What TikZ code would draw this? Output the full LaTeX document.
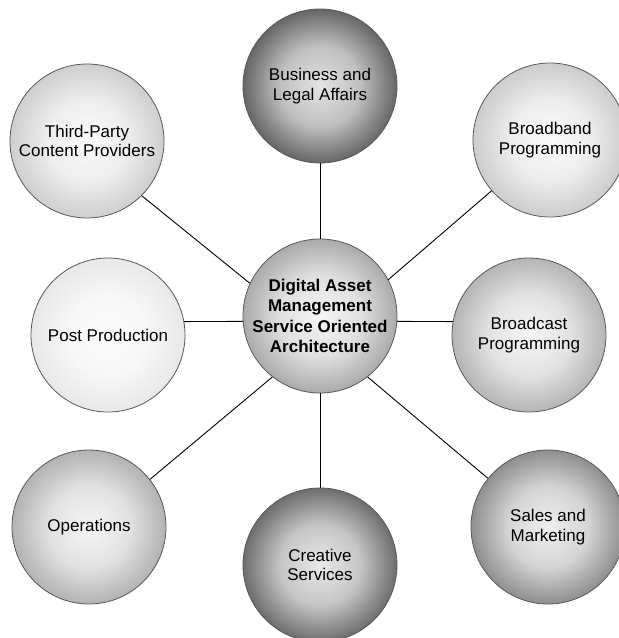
\documentclass[tikz,border=0pt]{standalone}
\usepackage{fontspec}
\setmainfont{Liberation Sans}
\colorlet{bin}{white}
\colorlet{bmid}{white}
\colorlet{bout}{gray}
\pgfdeclareradialshading[bin,bmid,bout]{bubbleshade}{\pgfpoint{0bp}{0bp}}{%
  color(0bp)=(bin); color(13bp)=(bmid); color(25bp)=(bout); color(50bp)=(bout)}
\begin{document}
\begin{tikzpicture}[x=1pt,y=-1pt,
  bubble/.style 2 args={circle, draw=black!65, line width=0.8pt, minimum size=154pt,
    inner sep=0pt, align=center,
    /utils/exec={\colorlet{bin}{#1}\colorlet{bout}{#2}\colorlet{bmid}{bin!72!bout}},
    shading=bubbleshade,
    font=\fontsize{17}{19.5}\selectfont},
  link/.style={draw=black, line width=0.9pt}]
\useasboundingbox (0,0) rectangle (619,638);
% nodes
\node[bubble={black!4}{black!33},
  font=\fontsize{17}{20.3}\selectfont\bfseries] (c) at (320,316)
  {Digital Asset\\Management\\Service Oriented\\Architecture};
\node[bubble={black!11}{black!60}] (bla) at (320,86)
  {Business and\\Legal Affairs};
\node[bubble={black!2}{black!19}] (tp) at (87,141)
  {Third-Party\\Content Providers};
\node[bubble={black!2}{black!20}] (bb) at (550,140)
  {Broadband\\Programming};
\node[bubble={black!1}{black!9}] (pp) at (108,335)
  {Post Production};
\node[bubble={black!4}{black!29}] (bc) at (529,335)
  {Broadcast\\Programming};
\node[bubble={black!4}{black!30}] (op) at (89,527)
  {Operations};
\node[bubble={black!9}{black!57}] (cs) at (320,565)
  {Creative\\Services};
\node[bubble={black!6}{black!44}] (sm) at (548,527)
  {Sales and\\Marketing};
% connectors
\draw[link] (c.north) -- (bla.south);
\draw[link] (c.south) -- (cs.north);
\draw[link] (c.155) -- (tp.315);
\draw[link] (c.28) -- (bb.221);
\draw[link] (c.184) -- (pp.10);
\draw[link] (c.356) -- (bc.170);
\draw[link] (c.232) -- (op.38);
\draw[link] (c.308) -- (sm.141);
\end{tikzpicture}
\end{document}
